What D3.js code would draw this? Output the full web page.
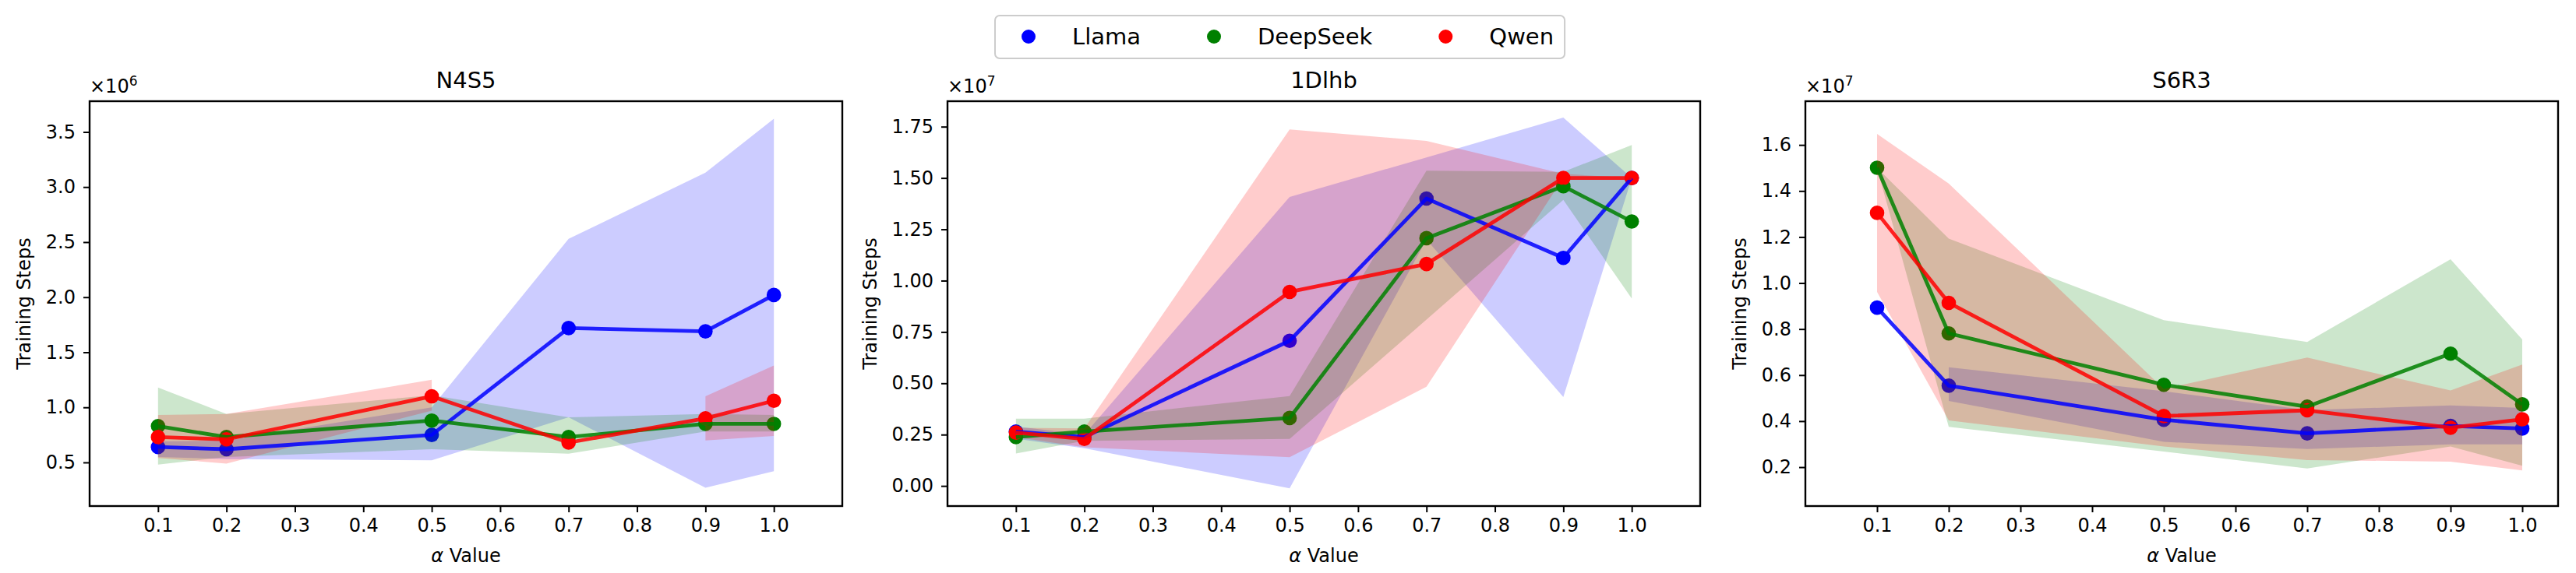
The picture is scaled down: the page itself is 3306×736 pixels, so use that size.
<!DOCTYPE html>
<html lang="en">
<head>
<meta charset="utf-8">
<title>Training Steps vs alpha</title>
<script src="https://cdn.jsdelivr.net/npm/d3@7/dist/d3.min.js"></script>
<style>
  body { margin: 0; background: #fff; }
  text { font-family: 'DejaVu Sans', sans-serif; fill: #000; }
</style>
</head>
<body>
<script>
// alpha values that were run, and the x ticks
var alphas = [0.1, 0.2, 0.5, 0.7, 0.9, 1.0];
var xTicks = [0.1, 0.2, 0.3, 0.4, 0.5, 0.6, 0.7, 0.8, 0.9, 1.0];
var models = ['Llama', 'DeepSeek', 'Qwen'];
var colors = ['blue', 'green', 'red'];

// N4S5, units of 1e6 steps (null = no band at that alpha)
var n4s5Llama      = [0.64, 0.62, 0.75, 1.72, 1.69, 2.02];
var n4s5LlamaLo    = [0.55, 0.53, 0.52, 0.91, 0.27, 0.42];
var n4s5LlamaHi    = [0.69, 0.70, 1.00, 2.53, 3.13, 3.62];
var n4s5DeepSeek   = [0.83, 0.73, 0.88, 0.73, 0.85, 0.85];
var n4s5DeepSeekLo = [0.48, 0.55, 0.62, 0.58, 0.78, 0.78];
var n4s5DeepSeekHi = [1.18, 0.94, 1.11, 0.91, 0.94, 0.93];
var n4s5Qwen       = [0.73, 0.71, 1.10, 0.68, 0.90, 1.06];
var n4s5QwenLo     = [0.54, 0.49, 0.97, null, 0.70, 0.74];
var n4s5QwenHi     = [0.93, 0.94, 1.25, null, 1.10, 1.38];

// 1Dlhb, units of 1e7 steps
var d1lhbLlama      = [0.265, 0.238, 0.707, 1.40, 1.111, 1.50];
var d1lhbLlamaLo    = [0.23, 0.184, -0.012, 1.20, 0.433, 1.50];
var d1lhbLlamaHi    = [0.29, 0.25, 1.408, 1.60, 1.794, 1.50];
var d1lhbDeepSeek   = [0.238, 0.265, 0.331, 1.207, 1.46, 1.288];
var d1lhbDeepSeekLo = [0.158, 0.22, 0.229, 0.81, 1.393, 0.913];
var d1lhbDeepSeekHi = [0.328, 0.328, 0.438, 1.536, 1.53, 1.661];
var d1lhbQwen       = [0.26, 0.229, 0.945, 1.081, 1.50, 1.50];
var d1lhbQwenLo     = [0.238, 0.188, 0.14, 0.483, 1.50, 1.50];
var d1lhbQwenHi     = [0.283, 0.28, 1.737, 1.681, 1.52, 1.50];

// S6R3, units of 1e7 steps
var s6r3Llama      = [0.893, 0.554, 0.406, 0.347, 0.379, 0.368];
var s6r3LlamaLo    = [null, 0.488, 0.31, 0.279, 0.299, 0.299];
var s6r3LlamaHi    = [null, 0.634, 0.53, 0.448, 0.468, 0.457];
var s6r3DeepSeek   = [1.501, 0.781, 0.558, 0.463, 0.693, 0.473];
var s6r3DeepSeekLo = [1.50, 0.375, 0.268, 0.194, 0.29, 0.206];
var s6r3DeepSeekHi = [1.50, 1.193, 0.839, 0.744, 1.103, 0.755];
var s6r3Qwen       = [1.305, 0.914, 0.422, 0.447, 0.371, 0.408];
var s6r3QwenLo     = [0.961, 0.403, 0.29, 0.231, 0.224, 0.186];
var s6r3QwenHi     = [1.648, 1.432, 0.54, 0.676, 0.533, 0.646];

var titles = ['N4S5', '1Dlhb', 'S6R3'];
var exponents = [6, 7, 7];
var yTicks = [
  [0.5, 1.0, 1.5, 2.0, 2.5, 3.0, 3.5],
  [0, 0.25, 0.5, 0.75, 1.0, 1.25, 1.5, 1.75],
  [0.2, 0.4, 0.6, 0.8, 1.0, 1.2, 1.4, 1.6]
];
var yFormats = ['.1f', '.2f', '.1f'];
var yLimits = [[0.104, 3.779], [-0.098, 1.874], [0.031, 1.79]];
var xLimits = [[0, 1.1], [0, 1.1], [0, 1.05]];

var panels = [
  { mean: [n4s5Llama, n4s5DeepSeek, n4s5Qwen],
    lo:   [n4s5LlamaLo, n4s5DeepSeekLo, n4s5QwenLo],
    hi:   [n4s5LlamaHi, n4s5DeepSeekHi, n4s5QwenHi] },
  { mean: [d1lhbLlama, d1lhbDeepSeek, d1lhbQwen],
    lo:   [d1lhbLlamaLo, d1lhbDeepSeekLo, d1lhbQwenLo],
    hi:   [d1lhbLlamaHi, d1lhbDeepSeekHi, d1lhbQwenHi] },
  { mean: [s6r3Llama, s6r3DeepSeek, s6r3Qwen],
    lo:   [s6r3LlamaLo, s6r3DeepSeekLo, s6r3QwenLo],
    hi:   [s6r3LlamaHi, s6r3DeepSeekHi, s6r3QwenHi] }
];

var width = 3306, height = 736;
var axLeft = [115, 1216, 2317];
var axW = 966, axTop = 130, axBottom = 650;

var svg = d3.select('body').append('svg')
  .attr('width', width)
  .attr('height', height);
svg.append('rect').attr('width', width).attr('height', height).attr('fill', '#fff');

panels.forEach(function(p, k) {
  var left = axLeft[k];
  var x = d3.scaleLinear().domain(xLimits[k]).range([left, left + axW]);
  var y = d3.scaleLinear().domain(yLimits[k]).range([axBottom, axTop]);

  var g = svg.append('g');
  var clipId = 'clip' + k;
  g.append('clipPath').attr('id', clipId)
    .append('rect')
    .attr('x', left).attr('y', axTop)
    .attr('width', axW).attr('height', axBottom - axTop);

  var plot = g.append('g').attr('clip-path', 'url(#' + clipId + ')');

  // markers and shaded bands first, per model (bands cover earlier markers)
  models.forEach(function(m, s) {
    var mean = p.mean[s], lo = p.lo[s], hi = p.hi[s];
    plot.selectAll('circle.m' + s)
      .data(mean)
      .enter()
      .append('circle')
      .attr('class', 'm' + s)
      .attr('cx', function(d, i) { return x(alphas[i]); })
      .attr('cy', function(d) { return y(d); })
      .attr('r', 9.3)
      .attr('fill', colors[s]);
    var band = d3.area()
      .defined(function(d, i) { return lo[i] != null && hi[i] != null; })
      .x(function(d, i) { return x(alphas[i]); })
      .y0(function(d, i) { return y(lo[i]); })
      .y1(function(d, i) { return y(hi[i]); });
    plot.append('path')
      .attr('d', band(alphas))
      .attr('fill', colors[s])
      .attr('fill-opacity', 0.2);
  });

  // lines on top of everything
  models.forEach(function(m, s) {
    var line = d3.line()
      .x(function(d, i) { return x(alphas[i]); })
      .y(function(d) { return y(d); });
    plot.append('path')
      .attr('d', line(p.mean[s]))
      .attr('fill', 'none')
      .attr('stroke', colors[s])
      .attr('stroke-opacity', 0.85)
      .attr('stroke-width', 4.8)
      .attr('stroke-linejoin', 'round');
  });

  // axes
  var xAxis = g.append('g')
    .attr('transform', 'translate(0,' + axBottom + ')')
    .call(d3.axisBottom(x).tickValues(xTicks).tickFormat(d3.format('.1f'))
      .tickSize(8).tickPadding(8));
  var yAxis = g.append('g')
    .attr('transform', 'translate(' + left + ',0)')
    .call(d3.axisLeft(y).tickValues(yTicks[k]).tickFormat(d3.format(yFormats[k]))
      .tickSize(8).tickPadding(10));
  [xAxis, yAxis].forEach(function(a) {
    a.select('.domain').remove();
    a.selectAll('.tick line').attr('stroke', '#000').attr('stroke-width', 2);
    a.selectAll('.tick text')
      .style('font-family', "'DejaVu Sans', sans-serif")
      .style('font-size', '24px')
      .attr('fill', '#000');
  });

  // frame
  g.append('rect')
    .attr('x', left).attr('y', axTop)
    .attr('width', axW).attr('height', axBottom - axTop)
    .attr('fill', 'none')
    .attr('stroke', '#000')
    .attr('stroke-width', 2.4);

  // title
  g.append('text')
    .attr('x', left + axW / 2).attr('y', 113)
    .attr('text-anchor', 'middle')
    .style('font-size', '29px')
    .text(titles[k]);

  // offset text
  var off = g.append('text')
    .attr('x', left).attr('y', 119)
    .style('font-size', '24px')
    .text('\u00d710');
  off.append('tspan')
    .attr('dy', -9)
    .style('font-size', '17px')
    .text(exponents[k]);

  // axis labels
  var maxW = d3.max(yAxis.selectAll('.tick text').nodes(), function(n) { return n.getComputedTextLength(); });
  var ylx = left - 18 - maxW - 20;
  g.append('text')
    .attr('transform', 'translate(' + ylx + ',' + ((axTop + axBottom) / 2) + ') rotate(-90)')
    .attr('text-anchor', 'middle')
    .style('font-size', '24px')
    .text('Training Steps');

  var xl = g.append('text')
    .attr('x', left + axW / 2).attr('y', 722)
    .attr('text-anchor', 'middle')
    .style('font-size', '24px');
  xl.append('tspan').style('font-style', 'italic').text('\u03b1');
  xl.append('tspan').text(' Value');
});

// legend across the top
var legend = svg.append('g');
var legBox = legend.append('rect')
  .attr('fill', '#fff')
  .attr('stroke', '#cccccc')
  .attr('stroke-width', 2)
  .attr('rx', 6).attr('ry', 6);
var lx = 1320;
models.forEach(function(m, s) {
  legend.append('circle')
    .attr('cx', lx).attr('cy', 47)
    .attr('r', 9)
    .attr('fill', colors[s]);
  var t = legend.append('text')
    .attr('x', lx + 56).attr('y', 57)
    .style('font-size', '29px')
    .text(m);
  lx = lx + 56 + t.node().getComputedTextLength() + 94;
});
legBox.attr('x', 1277).attr('y', 20)
  .attr('width', lx - 94 + 14 - 1277).attr('height', 55);
</script>
</body>
</html>
